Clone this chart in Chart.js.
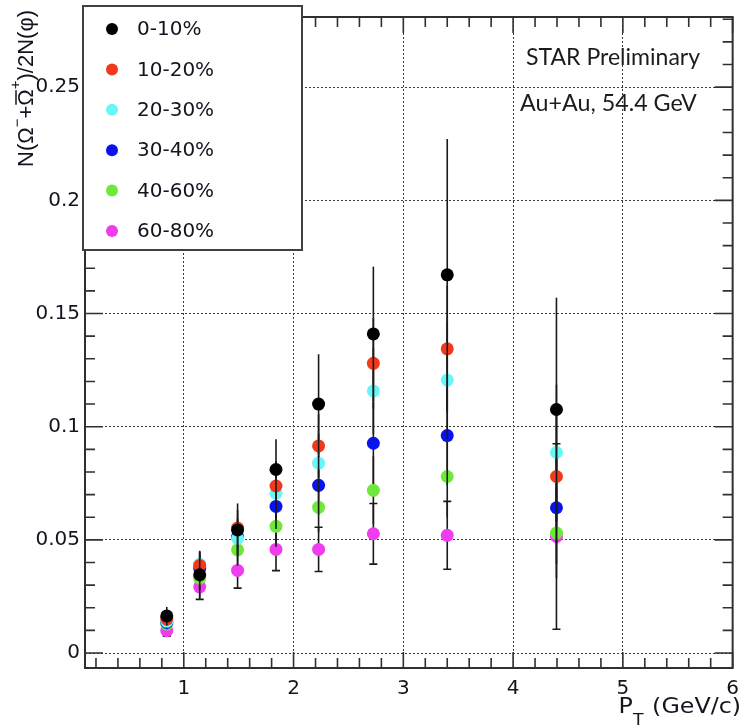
<!DOCTYPE html>
<html><head><meta charset="utf-8">
<script src="https://cdn.jsdelivr.net/npm/chart.js@4.4.1/dist/chart.umd.min.js"></script>
<style>html,body{margin:0;padding:0;background:#fff;} canvas{display:block;}</style>
</head><body>
<canvas id="c" width="748" height="728"></canvas>
<script>
// ---- data ----
const ptBins = [0.845, 1.145, 1.49, 1.84, 2.228, 2.727, 3.40, 4.395];
const cent0_10  = [0.0164, 0.0346, 0.0544, 0.0811, 0.1100, 0.1410, 0.1671, 0.1076];
const cent10_20 = [0.0150, 0.0387, 0.0552, 0.0738, 0.0915, 0.1280, 0.1344, 0.0780];
const cent20_30 = [0.0140, 0.0392, 0.0506, 0.0706, 0.0839, 0.1158, 0.1206, 0.0886];
const cent30_40 = [0.0135, 0.0375, 0.0515, 0.0648, 0.0741, 0.0927, 0.0961, 0.0642];
const cent40_60 = [0.0128, 0.0331, 0.0456, 0.0560, 0.0644, 0.0719, 0.0780, 0.0530];
const cent60_80 = [0.0099, 0.0292, 0.0365, 0.0458, 0.0458, 0.0527, 0.0520, 0.0515];
const err0_10   = [0.0040, 0.0102, 0.0117, 0.0134, 0.0220, 0.0297, 0.0600, 0.0494];
const err10_20  = [0.0030, 0.0060, 0.0080, 0.0110, 0.0140, 0.0200, 0.0280, 0.0300];
const err20_30  = [0.0030, 0.0060, 0.0080, 0.0110, 0.0130, 0.0190, 0.0260, 0.0300];
const err30_40  = [0.0030, 0.0060, 0.0080, 0.0100, 0.0130, 0.0180, 0.0220, 0.0250];
const err40_60  = [0.0025, 0.0050, 0.0070, 0.0090, 0.0110, 0.0150, 0.0180, 0.0200];
const err60_80  = [0.0025, 0.0055, 0.0078, 0.0094, 0.0098, 0.0134, 0.0150, 0.0410];
const seriesLabels = ['0-10%', '10-20%', '20-30%', '30-40%', '40-60%', '60-80%'];
const xTicks = [1, 2, 3, 4, 5, 6];
const xTickLabels = ['1', '2', '3', '4', '5', '6'];
const yTicks = [0, 0.05, 0.1, 0.15, 0.2, 0.25];
const yTickLabels = ['0', '0.05', '0.1', '0.15', '0.2', '0.25'];
const annotationLines = ['STAR Preliminary', 'Au+Au, 54.4 GeV'];

// ---- styling ----
const seriesValues = [cent0_10, cent10_20, cent20_30, cent30_40, cent40_60, cent60_80];
const seriesErrors = [err0_10, err10_20, err20_30, err30_40, err40_60, err60_80];
const seriesCaps = [false, false, false, false, false, true];
const seriesColors = ['#000000', '#f03a1c', '#68f6f6', '#0a12ee', '#6ee83a', '#ee3cee'];
const tickFont = {family: 'DejaVu Sans', size: 20};
const TXT = '#141420';

const datasets = seriesValues.map((vals, s) => ({
  label: seriesLabels[s],
  data: ptBins.map((x, i) => ({x: x, y: vals[i]})),
  showLine: false,
  pointRadius: 6.5,
  pointHoverRadius: 6.5,
  pointBorderWidth: 0,
  pointBackgroundColor: seriesColors[s],
  pointBorderColor: seriesColors[s]
}));

const errPlugin = {
  id: 'errbars',
  beforeDatasetDraw(chart, args) {
    const s = args.index;
    const ctx = chart.ctx;
    const xs = chart.scales.x, ys = chart.scales.y;
    const vals = seriesValues[s], errs = seriesErrors[s];
    ctx.save();
    ctx.strokeStyle = '#1a1a1a';
    ctx.lineWidth = 1.6;
    vals.forEach((v, i) => {
      const px = xs.getPixelForValue(ptBins[i]);
      const y1 = ys.getPixelForValue(v - errs[i]);
      const y2 = ys.getPixelForValue(v + errs[i]);
      ctx.beginPath(); ctx.moveTo(px, y1); ctx.lineTo(px, y2); ctx.stroke();
      if (seriesCaps[s]) {
        ctx.beginPath();
        ctx.moveTo(px - 4, y1); ctx.lineTo(px + 4, y1);
        ctx.moveTo(px - 4, y2); ctx.lineTo(px + 4, y2);
        ctx.stroke();
      }
    });
    ctx.restore();
  }
};

const decorPlugin = {
  id: 'decor',
  afterDatasetsDraw(chart) {
    const ctx = chart.ctx;
    const xs = chart.scales.x, ys = chart.scales.y;
    const a = chart.chartArea;
    ctx.save();
    // frame
    ctx.strokeStyle = '#303030';
    ctx.lineWidth = 2;
    ctx.strokeRect(a.left, a.top, a.right - a.left, a.bottom - a.top);
    // ticks
    ctx.lineWidth = 1.6;
    ctx.beginPath();
    for (let k = 1; k * 0.2 <= xs.max + 1e-9; k++) {
      const v = k * 0.2;
      if (v < xs.min) continue;
      const px = xs.getPixelForValue(v);
      const major = (k % 5 === 0);
      const L = major ? 16 : 10;
      ctx.moveTo(px, a.bottom); ctx.lineTo(px, a.bottom - L);
      ctx.moveTo(px, a.top); ctx.lineTo(px, a.top + L);
    }
    for (let k = 0; k * 0.01 <= ys.max + 1e-9; k++) {
      const v = k * 0.01;
      const py = ys.getPixelForValue(v);
      const major = (k % 5 === 0);
      const L = major ? 18 : 10;
      ctx.moveTo(a.left, py); ctx.lineTo(a.left + L, py);
      ctx.moveTo(a.right, py); ctx.lineTo(a.right - L, py);
    }
    ctx.stroke();

    // legend box
    const lb = {x: 83, y: 6, w: 219, h: 244};
    ctx.fillStyle = '#ffffff';
    ctx.fillRect(lb.x, lb.y, lb.w, lb.h);
    ctx.strokeStyle = '#404040';
    ctx.lineWidth = 2;
    ctx.strokeRect(lb.x, lb.y, lb.w, lb.h);
    ctx.font = '20px "DejaVu Sans"';
    ctx.textBaseline = 'middle';
    ctx.textAlign = 'left';
    chart.data.datasets.forEach((ds, s) => {
      const yy = 29 + s * 40.4;
      ctx.fillStyle = ds.pointBackgroundColor;
      ctx.beginPath(); ctx.arc(112, yy, 6, 0, Math.PI * 2); ctx.fill();
      ctx.fillStyle = TXT;
      ctx.fillText(ds.label, 137, yy + 1);
    });

    // annotation
    ctx.fillStyle = '#1c1c1c';
    ctx.font = '24px Lato';
    ctx.textBaseline = 'alphabetic';
    ctx.save(); ctx.translate(526, 65); ctx.scale(0.96, 1); ctx.fillText(annotationLines[0], 0, 0); ctx.restore();
    ctx.save(); ctx.translate(520, 111); ctx.scale(0.97, 1); ctx.fillText(annotationLines[1], 0, 0); ctx.restore();

    // x-axis title  P_T (GeV/c)
    ctx.save();
    ctx.fillStyle = TXT;
    const fMain = '22px "DejaVu Sans"', fSub = '16px "DejaVu Sans"';
    const sx = 1.08;
    ctx.font = fMain; const wP = ctx.measureText('P').width;
    const wRest = ctx.measureText(' (GeV/c)').width;
    ctx.font = fSub; const wT = ctx.measureText('T').width;
    const total = (wP + wT + 1 + wRest) * sx;
    ctx.translate(741 - total, 713);
    ctx.scale(sx, 1);
    let xx = 0;
    ctx.textBaseline = 'alphabetic';
    ctx.font = fMain; ctx.fillText('P', xx, 0); xx += wP;
    ctx.font = fSub; ctx.fillText('T', xx, 12); xx += wT + 1;
    ctx.font = fMain; ctx.fillText(' (GeV/c)', xx, 0);
    ctx.restore();

    // y-axis title N(Ω⁻+Ω̄⁺)/2N(φ), rotated
    ctx.save();
    ctx.fillStyle = TXT;
    ctx.translate(26, 10);
    ctx.rotate(-Math.PI / 2);
    const fm = '22px "Liberation Sans"', fs = '15px "Liberation Sans"';
    const parts = [
      {t: 'N(Ω', f: fm, dy: 0},
      {t: '−', f: fs, dy: -9},
      {t: '+', f: fm, dy: 0},
      {t: 'Ω', f: fm, dy: 0, over: true},
      {t: '+', f: fs, dy: -11},
      {t: ')/2N(φ)', f: fm, dy: 0}
    ];
    let tot = 0;
    parts.forEach(p => { ctx.font = p.f; p.w = ctx.measureText(p.t).width; tot += p.w; });
    const sl = 157 / tot;
    ctx.scale(sl, 1);
    let tx = -tot;
    ctx.textBaseline = 'middle';
    ctx.strokeStyle = TXT; ctx.lineWidth = 1.5;
    parts.forEach(p => {
      ctx.font = p.f;
      ctx.fillText(p.t, tx, p.dy + 1);
      if (p.over) {
        ctx.beginPath(); ctx.moveTo(tx + 1, -10); ctx.lineTo(tx + p.w - 1, -10); ctx.stroke();
      }
      tx += p.w;
    });
    ctx.restore();
    ctx.restore();
  }
};

new Chart(document.getElementById('c'), {
  type: 'scatter',
  data: {datasets: datasets},
  plugins: [errPlugin, decorPlugin],
  options: {
    responsive: false,
    devicePixelRatio: 1,
    animation: false,
    layout: {padding: {top: 8, right: 9, left: 0, bottom: 0}},
    plugins: {legend: {display: false}, tooltip: {enabled: false}},
    scales: {
      x: {
        type: 'linear', min: 0.1, max: 6,
        afterBuildTicks: s => { s.ticks = xTicks.map(v => ({value: v})); },
        afterFit: s => { s.height = 60; },
        ticks: {
          font: tickFont, color: TXT, padding: 9, maxRotation: 0, autoSkip: false,
          callback: (v) => { const i = xTicks.indexOf(v); return i >= 0 ? xTickLabels[i] : ''; }
        },
        grid: {color: '#3a3a3a', lineWidth: 1, drawTicks: false},
        border: {display: false, dash: [2, 2]}
      },
      y: {
        type: 'linear', min: -0.0066, max: 0.281,
        afterBuildTicks: s => { s.ticks = yTicks.map(v => ({value: v})); },
        afterFit: s => { s.width = 85; },
        ticks: {
          font: tickFont, color: TXT, padding: 5, autoSkip: false,
          callback: (v) => { const i = yTicks.indexOf(v); return i >= 0 ? yTickLabels[i] : ''; }
        },
        grid: {color: '#3a3a3a', lineWidth: 1, drawTicks: false},
        border: {display: false, dash: [2, 2]}
      }
    }
  }
});
</script>
</body></html>
